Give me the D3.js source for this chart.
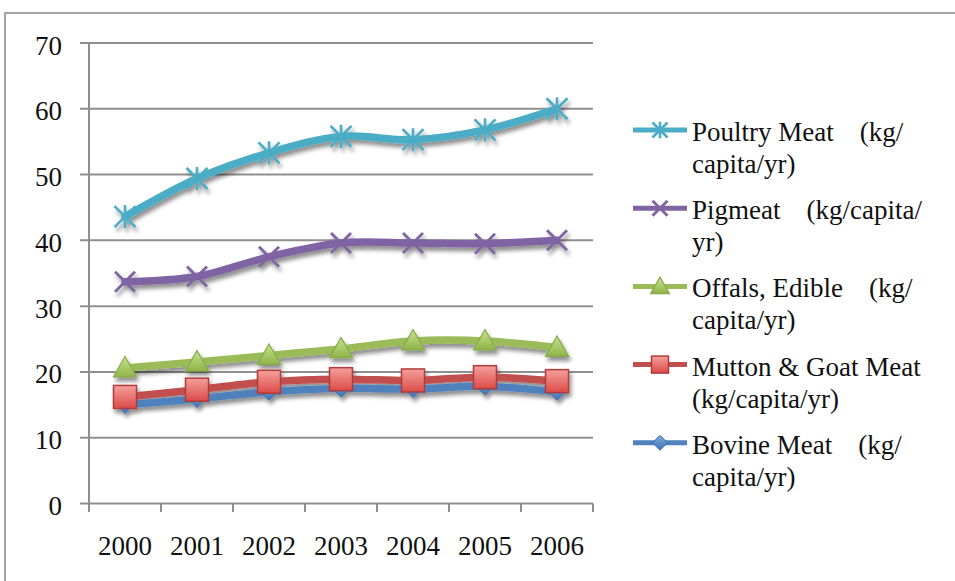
<!DOCTYPE html>
<html>
<head>
<meta charset="utf-8">
<script src="https://cdn.jsdelivr.net/npm/d3@7"></script>
<style>
  html, body { margin: 0; padding: 0; background: #fff; }
  svg { display: block; }
  text { font-family: "Liberation Serif", "Times New Roman", serif; fill: #111; }
</style>
</head>
<body>
<svg id="chart" width="955" height="581"></svg>
<script>
// ---- data ----
const years = ["2000", "2001", "2002", "2003", "2004", "2005", "2006"];
const yTicks = [0, 10, 20, 30, 40, 50, 60, 70];

const poultry = [43.6, 49.4, 53.3, 55.8, 55.3, 56.8, 60.0];
const pigmeat = [33.7, 34.5, 37.5, 39.6, 39.6, 39.5, 40.0];
const offals  = [20.6, 21.5, 22.5, 23.5, 24.7, 24.7, 23.7];
const mutton  = [16.2, 17.3, 18.5, 18.9, 18.7, 19.2, 18.6];
const bovine  = [15.0, 15.9, 17.0, 17.5, 17.4, 17.8, 17.0];

const seriesNames = [
  ["Poultry Meat", "(kg/", "capita/yr)"],
  ["Pigmeat", "(kg/capita/", "yr)"],
  ["Offals, Edible", "(kg/", "capita/yr)"],
  ["Mutton & Goat Meat", "", "(kg/capita/yr)"],
  ["Bovine Meat", "(kg/", "capita/yr)"]
];

// ---- setup ----
const series = [
  { key: "poultry", values: poultry, color: "#4BACC6", marker: "asterisk", name: seriesNames[0] },
  { key: "pigmeat", values: pigmeat, color: "#8064A2", marker: "x", name: seriesNames[1] },
  { key: "offals",  values: offals,  color: "#9BBB59", marker: "triangle", name: seriesNames[2] },
  { key: "mutton",  values: mutton,  color: "#C0504D", marker: "square", name: seriesNames[3] },
  { key: "bovine",  values: bovine,  color: "#4F81BD", marker: "diamond", name: seriesNames[4] }
];

const svg = d3.select("#chart");
const pLeft = 89, pRight = 593, pTop = 43, pBottom = 503.5;

const x = d3.scaleBand().domain(years).range([pLeft, pRight]).padding(0);
const y = d3.scaleLinear().domain([0, 70]).range([pBottom, pTop]);

const defs = svg.append("defs");
const f = defs.append("filter").attr("id", "shadow")
  .attr("x", "-20%").attr("y", "-20%").attr("width", "140%").attr("height", "160%");
f.append("feGaussianBlur").attr("in", "SourceAlpha").attr("stdDeviation", 2.2).attr("result", "b");
f.append("feOffset").attr("in", "b").attr("dx", 1.5).attr("dy", 3.5).attr("result", "o");
f.append("feComponentTransfer").attr("in", "o").attr("result", "oa")
  .append("feFuncA").attr("type", "linear").attr("slope", 0.45);
const fm = f.append("feMerge");
fm.append("feMergeNode").attr("in", "oa");
fm.append("feMergeNode").attr("in", "SourceGraphic");

function grad(id, c1, c2) {
  const g = defs.append("linearGradient").attr("id", id)
    .attr("x1", 0).attr("y1", 0).attr("x2", 0).attr("y2", 1);
  g.append("stop").attr("offset", "0%").attr("stop-color", c1);
  g.append("stop").attr("offset", "100%").attr("stop-color", c2);
}
grad("gTri", "#c6e38f", "#8fb547");
grad("gSq", "#f4a09d", "#dc4b47");
grad("gDia", "#7fa9dc", "#3f73b6");

// outer frame
svg.append("rect").attr("x", 5).attr("y", 13).attr("width", 1000).attr("height", 700)
  .attr("fill", "none").attr("stroke", "#a3a3a3").attr("stroke-width", 2);

// gridlines
svg.append("g").selectAll("line").data(yTicks).join("line")
  .attr("x1", pLeft - 9).attr("x2", pRight)
  .attr("y1", d => y(d)).attr("y2", d => y(d))
  .attr("stroke", "#8f8f8f").attr("stroke-width", 2);

// y axis line
svg.append("line").attr("x1", pLeft).attr("x2", pLeft).attr("y1", pTop).attr("y2", pBottom)
  .attr("stroke", "#8f8f8f").attr("stroke-width", 2);

// x ticks at band boundaries
const boundaries = years.map(d => x(d)).concat([x(years[years.length - 1]) + x.bandwidth()]);
svg.append("g").selectAll("line").data(boundaries).join("line")
  .attr("x1", d => d).attr("x2", d => d)
  .attr("y1", pBottom).attr("y2", pBottom + 8.5)
  .attr("stroke", "#8f8f8f").attr("stroke-width", 2);

// y labels
svg.append("g").selectAll("text").data(yTicks).join("text")
  .attr("x", 62).attr("y", d => y(d) + 11.5)
  .attr("text-anchor", "end").attr("font-size", 27)
  .text(d => d);

// x labels
svg.append("g").selectAll("text").data(years).join("text")
  .attr("x", d => x(d) + x.bandwidth() / 2).attr("y", pBottom + 51.5)
  .attr("text-anchor", "middle").attr("font-size", 27)
  .text(d => d);

// markers
function drawMarker(g, type, color, s) {
  const h = s / 2;
  if (type === "asterisk") {
    g.append("path").attr("d", `M${-h},${-h}L${h},${h}M${-h},${h}L${h},${-h}M0,${-h * 1.1}L0,${h * 1.1}`)
      .attr("stroke", color).attr("stroke-width", 2.6).attr("fill", "none");
  } else if (type === "x") {
    g.append("path").attr("d", `M${-h},${-h}L${h},${h}M${-h},${h}L${h},${-h}`)
      .attr("stroke", color).attr("stroke-width", 2.8).attr("fill", "none");
  } else if (type === "triangle") {
    g.append("path").attr("d", `M0,${-h * 1.05}L${h * 1.05},${h * 0.8}L${-h * 1.05},${h * 0.8}Z`)
      .attr("fill", "url(#gTri)").attr("stroke", "#86a94a").attr("stroke-width", 1.2);
  } else if (type === "square") {
    g.append("rect").attr("x", -h).attr("y", -h).attr("width", s).attr("height", s)
      .attr("fill", "url(#gSq)").attr("stroke", "#b13b38").attr("stroke-width", 1.5);
  } else if (type === "diamond") {
    g.append("path").attr("d", `M0,${-h}L${h},0L0,${h}L${-h},0Z`)
      .attr("fill", "url(#gDia)").attr("stroke", "#3c6aa6").attr("stroke-width", 1);
  }
}

const line = d3.line()
  .x((d, i) => x(years[i]) + x.bandwidth() / 2)
  .y(d => y(d))
  .curve(d3.curveCatmullRom.alpha(0));

const markerSize = { asterisk: 21, x: 20, triangle: 22, square: 23, diamond: 17 };

const plot = svg.append("g").attr("filter", "url(#shadow)");
series.slice().reverse().forEach(s => {
  const g = plot.append("g");
  g.append("path").datum(s.values).attr("d", line)
    .attr("fill", "none").attr("stroke", s.color).attr("stroke-width", 7.5)
    .attr("stroke-linejoin", "round").attr("stroke-linecap", "round");
  s.values.forEach((v, i) => {
    const mg = g.append("g").attr("transform", `translate(${x(years[i]) + x.bandwidth() / 2},${y(v)})`);
    drawMarker(mg, s.marker, s.color, markerSize[s.marker]);
  });
});

// legend
const legY0 = 130, legStep = 78.2;
const legendMarkerSize = { asterisk: 15, x: 15, triangle: 18, square: 17, diamond: 15 };
series.forEach((s, i) => {
  const ly = legY0 + i * legStep;
  const g = svg.append("g");
  g.append("line").attr("x1", 633).attr("x2", 687).attr("y1", ly).attr("y2", ly)
    .attr("stroke", s.color).attr("stroke-width", 5);
  const mg = g.append("g").attr("transform", `translate(660,${ly})`);
  drawMarker(mg, s.marker, s.color, legendMarkerSize[s.marker]);
  const t1 = g.append("text").attr("x", 692).attr("y", ly + 11).attr("font-size", 27).text(s.name[0]);
  if (s.name[1]) {
    const w = t1.node().getComputedTextLength();
    g.append("text").attr("x", 692 + w + 26).attr("y", ly + 11).attr("font-size", 27).text(s.name[1]);
  }
  g.append("text").attr("x", 692).attr("y", ly + 43).attr("font-size", 27).text(s.name[2]);
});
</script>
</body>
</html>
